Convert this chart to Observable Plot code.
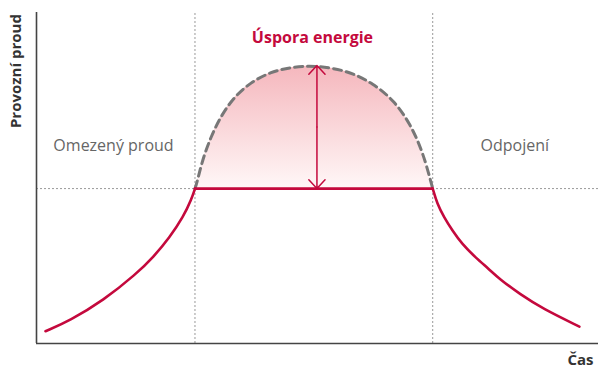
<!DOCTYPE html>
<html>
<head>
<meta charset="utf-8">
<script src="https://cdn.jsdelivr.net/npm/d3@7"></script>
<script src="https://cdn.jsdelivr.net/npm/@observablehq/plot@0.6"></script>
<style>
  html, body { margin: 0; padding: 0; background: #fff; }
  svg { display: block; }
</style>
</head>
<body>
<div id="chart"></div>
<script>
// Time / operating current readings (relative units 0–100)
const riseTime    = [1.6, 5.9, 11.9, 17.8, 20.8, 23.7, 26.1, 27.6, 28.2];
const riseCurrent = [3.7, 6.9, 13.0, 21.1, 26.1, 32.1, 38.2, 43.7, 46.8];
const limitCurrent = 46.8;
const limitStart = 28.2;
const limitEnd = 70.5;
const fallTime    = [70.5, 71.3, 72.5, 74.0, 75.7, 78.1, 80.5, 82.3, 86.1, 90.0, 96.6];
const fallCurrent = [46.8, 42.2, 38.2, 34.1, 30.1, 26.0, 22.5, 19.6, 14.8, 10.6, 5.1];
const fullTime    = [28.2, 28.5, 29.5, 31.0, 32.7, 35.1, 38.1, 41.6, 45.2, 49.6, 55.3, 60.0, 63.6, 66.5, 68.6, 69.8, 70.5];
const fullCurrent = [46.8, 48.2, 55.3, 62.3, 68.4, 74.4, 78.9, 82.0, 83.5, 84.0, 82.5, 78.5, 73.4, 66.4, 58.3, 51.3, 46.8];
const peakTime = 49.9;
const peakCurrent = 84.0;

const regionLabels = ["Omezený proud", "Odpojení"];
const regionTime = [13.7, 85.1];
const regionCurrent = [58.3, 58.3];
const savingLabel = "Úspora energie";
const yLabel = "Provozní proud";
const xLabel = "Čas";

const red = "#c4093d";

const rise = riseTime.map((t, i) => ({t, c: riseCurrent[i]}));
const fall = fallTime.map((t, i) => ({t, c: fallCurrent[i]}));
const full = fullTime.map((t, i) => ({t, c: fullCurrent[i]}));
const flat = [{t: limitStart, c: limitCurrent}, {t: limitEnd, c: limitCurrent}];
const mid = (limitCurrent + peakCurrent) / 2;

const defs = () => {
  const ns = "http://www.w3.org/2000/svg";
  const d = document.createElementNS(ns, "defs");
  d.innerHTML = `<linearGradient id="saving" x1="0" y1="0" x2="0" y2="1">
      <stop offset="0" stop-color="#f5b7bd"/>
      <stop offset="1" stop-color="#fff7f7"/>
    </linearGradient>`;
  return d;
};

const chart = Plot.plot({
  width: 599,
  height: 371,
  marginLeft: 36,
  marginRight: 1,
  marginTop: 12,
  marginBottom: 28,
  style: {fontFamily: "'Open Sans', sans-serif", background: "#fff", overflow: "visible"},
  x: {domain: [0, 100], axis: null},
  y: {domain: [0, 100], axis: null},
  marks: [
    defs,
    Plot.areaY(full, {x: "t", y1: limitCurrent, y2: "c", curve: "basis", fill: "url(#saving)"}),
    Plot.ruleX([limitStart, limitEnd], {y1: 0, y2: 100, stroke: "#9a9a9a", strokeWidth: 1, strokeDasharray: "2,2"}),
    Plot.ruleY([limitCurrent], {x1: 0, x2: 100, stroke: "#9a9a9a", strokeWidth: 1, strokeDasharray: "2,2"}),
    Plot.line(full, {x: "t", y: "c", curve: "basis", stroke: "#777", strokeWidth: 3, strokeDasharray: "8,5"}),
    Plot.line(rise, {x: "t", y: "c", curve: "basis", stroke: red, strokeWidth: 2.6}),
    Plot.line(flat, {x: "t", y: "c", stroke: red, strokeWidth: 2.6}),
    Plot.line(fall, {x: "t", y: "c", curve: "basis", stroke: red, strokeWidth: 2.6}),
    Plot.arrow([{y1: mid, y2: peakCurrent}, {y1: mid, y2: limitCurrent}], {
      x1: peakTime, x2: peakTime, y1: "y1", y2: "y2", stroke: red, strokeWidth: 1.5, headLength: 12, headAngle: 85
    }),
    Plot.ruleX([0], {y1: 0, y2: 100, stroke: "#444", strokeWidth: 1.6}),
    Plot.ruleY([0], {x1: 0, x2: 100, stroke: "#444", strokeWidth: 1.6}),
    Plot.text(regionLabels, {x: (d, i) => regionTime[i], y: (d, i) => regionCurrent[i], text: d => d,
      fill: "#666", fontSize: 16, lineAnchor: "bottom", textAnchor: "middle"}),
    Plot.text([savingLabel], {x: peakTime - 0.8, y: 90.9, text: d => d, fill: red, fontSize: 16, fontWeight: "bold",
      lineAnchor: "bottom", textAnchor: "middle"}),
    Plot.text([yLabel], {x: -2.7, y: 82.3, text: d => d, rotate: -90, fill: "#333", fontSize: 15, fontWeight: "bold",
      lineAnchor: "bottom", textAnchor: "middle"}),
    Plot.text([xLabel], {x: 96.8, y: -6.6, text: d => d, fill: "#333", fontSize: 15, fontWeight: "bold",
      lineAnchor: "bottom", textAnchor: "middle"})
  ]
});
document.getElementById("chart").appendChild(chart);
</script>
</body>
</html>
